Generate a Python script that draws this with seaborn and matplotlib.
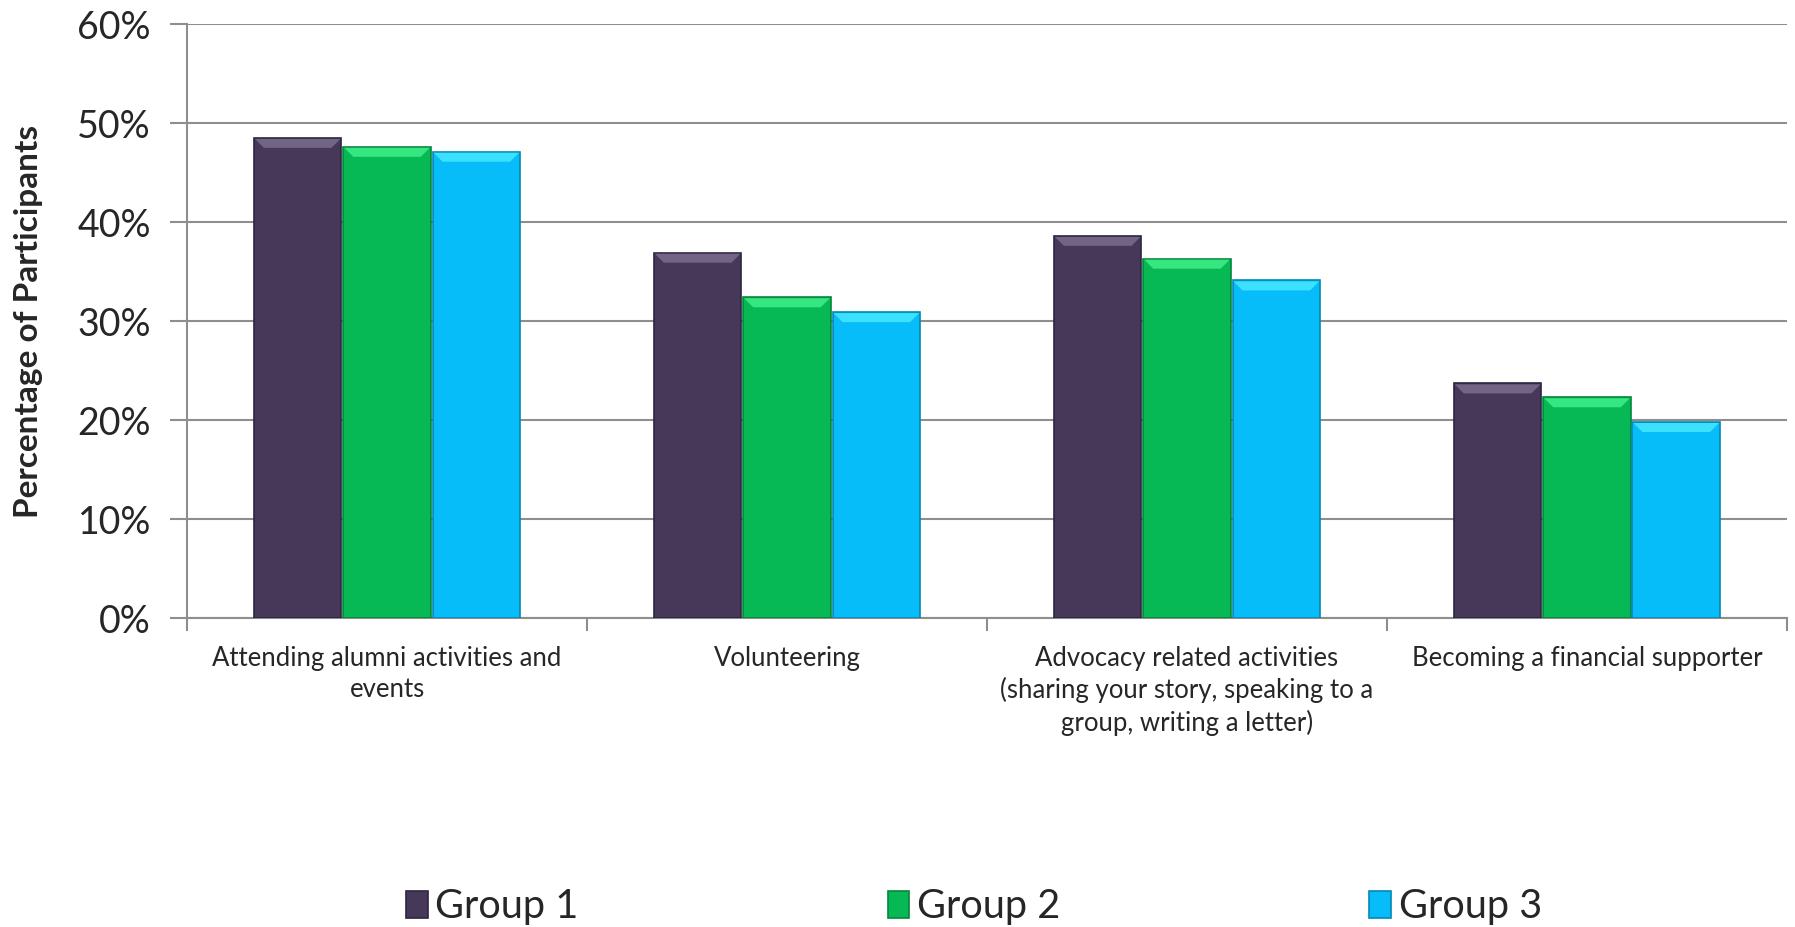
import matplotlib
matplotlib.use("Agg")
import matplotlib.pyplot as plt
import seaborn as sns
import pandas as pd
import numpy as np
from matplotlib.ticker import FixedLocator, PercentFormatter
from matplotlib.patches import Polygon
from matplotlib.transforms import IdentityTransform

categories = [
    "Attending alumni activities and\nevents",
    "Volunteering",
    "Advocacy related activities\n(sharing your story, speaking to a\ngroup, writing a letter)",
    "Becoming a financial supporter",
]
groups = ["Group 1", "Group 2", "Group 3"]
group1 = [48.5, 36.9, 38.6, 23.7]
group2 = [47.6, 32.4, 36.3, 22.3]
group3 = [47.1, 30.9, 34.1, 19.8]
colors = ["#463858", "#07B954", "#06BCF9"]
edge_colors = ["#2E2440", "#05863C", "#0589B5"]
bevel_colors = ["#7A6C8C", "#3FF08A", "#45E8FF"]

rows = []
for g, vals in zip(groups, [group1, group2, group3]):
    for c, v in zip(categories, vals):
        rows.append({"Category": c, "Group": g, "Value": v})
df = pd.DataFrame(rows)

sns.set_style("white")
plt.rcParams["font.family"] = ["Lato", "DejaVu Sans"]

fig = plt.figure(figsize=(17.95, 9.27), dpi=100)
ax = fig.add_axes([0.1042, 0.3333, 0.8913, 0.6408])

sns.barplot(data=df, x="Category", y="Value", hue="Group", order=categories,
            hue_order=groups, palette=colors, width=0.67, gap=0.02,
            saturation=1, ax=ax, legend=True, zorder=3)

for cont, ec in zip(ax.containers, edge_colors):
    for p in cont:
        p.set_edgecolor(ec)
        p.set_linewidth(1.2)

ax.set_ylim(0, 60)
ax.set_xlim(-0.5, 3.5)
ax.yaxis.set_major_locator(FixedLocator([0, 10, 20, 30, 40, 50, 60]))
ax.yaxis.set_major_formatter(PercentFormatter(decimals=0))
ax.grid(axis="y", color="#8E8E8E", linewidth=1.5, zorder=0)
ax.set_axisbelow(True)

for s in ["top", "right"]:
    ax.spines[s].set_visible(False)
for s in ["left", "bottom"]:
    ax.spines[s].set_color("#8E8E8E")
    ax.spines[s].set_linewidth(1.5)

ax.tick_params(axis="y", which="major", length=12, width=1.5, color="#8E8E8E",
               labelsize=27, pad=14, left=True)
ax.tick_params(axis="x", which="major", length=0, labelsize=18.5, pad=20)
ax.set_xticks(range(len(categories)))
ax.set_xticklabels(categories, linespacing=1.3)
ax.xaxis.set_minor_locator(FixedLocator([-0.5, 0.5, 1.5, 2.5, 3.5]))
ax.tick_params(axis="x", which="minor", length=9, width=1.5, color="#8E8E8E", bottom=True)

ax.set_xlabel("")
ax.set_ylabel("Percentage of Participants", fontsize=24, fontweight="bold", labelpad=25)

# bevel highlight on the top of each bar, derived from the bar geometry
fig.canvas.draw()
bev = 9
for cont, bc in zip(ax.containers, bevel_colors):
    for p in cont:
        bb = p.get_window_extent()
        x0, x1, y1 = bb.x0 + 1, bb.x1 - 1, bb.y1 - 1
        poly = Polygon([[x0, y1], [x1, y1], [x1 - bev, y1 - bev], [x0 + bev, y1 - bev]],
                       closed=True, facecolor=bc, edgecolor="none",
                       transform=IdentityTransform(), zorder=4, alpha=0.85)
        ax.add_artist(poly)

ax.get_legend().remove()
handles = [plt.Rectangle((0, 0), 1, 1, facecolor=c, edgecolor=e, linewidth=1.2)
           for c, e in zip(colors, edge_colors)]
fig.legend(handles, groups, loc="center", bbox_to_anchor=(0.5426, 0.0216), ncol=3,
           frameon=False, fontsize=28.5, handlelength=0.55, handleheight=0.7,
           handletextpad=0.2, columnspacing=7.8)

fig.savefig("out.png", dpi=100)
